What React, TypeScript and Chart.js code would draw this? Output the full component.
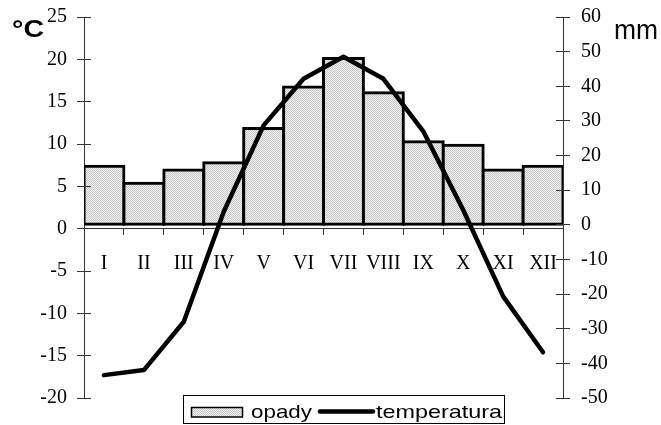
import React, { useEffect, useRef } from 'react';
import { Chart, registerables } from 'chart.js';

Chart.register(...registerables);

const months = ['I', 'II', 'III', 'IV', 'V', 'VI', 'VII', 'VIII', 'IX', 'X', 'XI', 'XII'];
const precipitation = [16.9, 12.0, 15.8, 17.9, 27.8, 39.8, 48.0, 38.1, 24.0, 23.0, 15.8, 16.9];
const temperature = [-17.3, -16.7, -11.0, 2.0, 12.2, 17.7, 20.3, 17.7, 11.5, 2.2, -8.0, -14.6];
const tempAxis = [-20, 25, 5];
const precipAxis = [-50, 60, 10];
const seriesNames = ['opady', 'temperatura'];
const unitLabels = ['°C', 'mm'];

const SERIF = '"Liberation Serif", "Times New Roman", serif';
const SANS = '"Liberation Sans", Arial, sans-serif';
const AXIS = '#333333';

function makePattern(): CanvasPattern | string {
  const c = document.createElement('canvas');
  c.width = 2;
  c.height = 2;
  const g = c.getContext('2d');
  if (!g) return '#dddddd';
  g.fillStyle = '#f3f3f3';
  g.fillRect(0, 0, 2, 2);
  g.fillStyle = '#c6c6c6';
  g.fillRect(0, 0, 1, 1);
  g.fillRect(1, 1, 1, 1);
  return g.createPattern(c, 'repeat') || '#dddddd';
}

function stretchText(ctx: CanvasRenderingContext2D, text: string, font: string, x: number, baseline: number, width: number) {
  ctx.save();
  ctx.font = font;
  ctx.textAlign = 'left';
  ctx.textBaseline = 'alphabetic';
  ctx.fillStyle = '#000';
  const w = ctx.measureText(text).width || 1;
  ctx.translate(x, baseline);
  ctx.scale(width / w, 1);
  ctx.fillText(text, 0, 0);
  ctx.restore();
}

export default function App() {
  const ref = useRef<HTMLCanvasElement | null>(null);

  useEffect(() => {
    if (!ref.current) return;
    const pattern = makePattern();

    const decor = {
      id: 'decor',
      afterDraw(chart: any) {
        const ctx: CanvasRenderingContext2D = chart.ctx;
        const ys = chart.scales.y;
        const y1s = chart.scales.y1;
        ctx.save();
        ctx.strokeStyle = AXIS;
        ctx.lineWidth = 1;
        ys.ticks.forEach((_t: any, i: number) => {
          const py = Math.floor(ys.getPixelForTick(i)) + 0.5;
          ctx.beginPath();
          ctx.moveTo(chart.chartArea.left, py);
          ctx.lineTo(chart.chartArea.left + 7, py);
          ctx.stroke();
        });
        y1s.ticks.forEach((_t: any, i: number) => {
          const py = Math.floor(y1s.getPixelForTick(i)) + 0.5;
          ctx.beginPath();
          ctx.moveTo(chart.chartArea.right - 7, py);
          ctx.lineTo(chart.chartArea.right, py);
          ctx.stroke();
        });
        ctx.restore();

        // unit labels
        stretchText(ctx, unitLabels[0], 'bold 23px ' + SANS, 12, 37, 32);
        stretchText(ctx, unitLabels[1], '27px ' + SANS, 614, 39, 44);

        // legend
        const ds = chart.data.datasets;
        ctx.save();
        ctx.strokeStyle = '#000';
        ctx.lineWidth = 1;
        ctx.strokeRect(183.5, 395.5, 321, 28);
        ctx.fillStyle = pattern as any;
        ctx.fillRect(191, 407, 52, 10);
        ctx.lineWidth = 1.5;
        ctx.strokeRect(191.5, 407.5, 51, 9.5);
        ctx.lineWidth = 4.5;
        ctx.lineCap = 'round';
        ctx.beginPath();
        ctx.moveTo(320, 411.5);
        ctx.lineTo(373, 411.5);
        ctx.stroke();
        ctx.restore();
        stretchText(ctx, ds[0].label, '19px ' + SANS, 251, 418, 61);
        stretchText(ctx, ds[1].label, '19px ' + SANS, 376, 418, 126);
      },
    };

    const chart = new Chart(ref.current, {
      type: 'bar',
      data: {
        labels: months,
        datasets: [
          {
            type: 'bar',
            label: seriesNames[0],
            data: precipitation,
            yAxisID: 'y1',
            backgroundColor: pattern as any,
            borderColor: '#000',
            borderWidth: 3,
            inflateAmount: 1.5,
            borderSkipped: false,
            barPercentage: 1,
            categoryPercentage: 1,
            order: 2,
          } as any,
          {
            type: 'line',
            label: seriesNames[1],
            data: temperature,
            yAxisID: 'y',
            borderColor: '#000',
            borderWidth: 4.5,
            pointRadius: 0,
            tension: 0,
            fill: false,
            borderJoinStyle: 'round',
            borderCapStyle: 'round',
            order: 1,
          } as any,
        ],
      },
      options: {
        animation: false,
        responsive: true,
        maintainAspectRatio: false,
        layout: { padding: { top: 17, bottom: 27, left: 0, right: 0 } },
        plugins: {
          legend: { display: false },
          tooltip: { enabled: false },
        },
        scales: {
          x: {
            type: 'category',
            position: { y: 0 } as any,
            offset: true,
            grid: { offset: true, drawOnChartArea: false, drawTicks: true, tickLength: 6, color: AXIS },
            border: { display: true, color: AXIS, width: 1 },
            ticks: { color: '#000', font: { family: SERIF, size: 20 }, padding: 17, maxRotation: 0, autoSkip: false },
          },
          y: {
            position: 'left',
            min: tempAxis[0],
            max: tempAxis[1],
            ticks: { stepSize: tempAxis[2], color: '#000', font: { family: SERIF, size: 20 }, padding: 10 },
            grid: { drawOnChartArea: false, drawTicks: true, tickLength: 7, color: AXIS },
            border: { display: true, color: AXIS, width: 1 },
            afterFit: (s: any) => { s.width = 84; s.paddingTop = 0; s.paddingBottom = 0; },
          },
          y1: {
            position: 'right',
            min: precipAxis[0],
            max: precipAxis[1],
            ticks: { stepSize: precipAxis[2], color: '#000', font: { family: SERIF, size: 20 }, padding: 11 },
            grid: { drawOnChartArea: false, drawTicks: true, tickLength: 7, color: AXIS },
            border: { display: true, color: AXIS, width: 1 },
            afterFit: (s: any) => { s.width = 98; s.paddingTop = 0; s.paddingBottom = 0; },
          },
        },
      } as any,
      plugins: [decor],
    });
    return () => chart.destroy();
  }, []);

  return (
    <div style={{ position: 'absolute', left: 0, top: 0, width: 661, height: 425, background: '#fff' }}>
      <canvas ref={ref} />
    </div>
  );
}
